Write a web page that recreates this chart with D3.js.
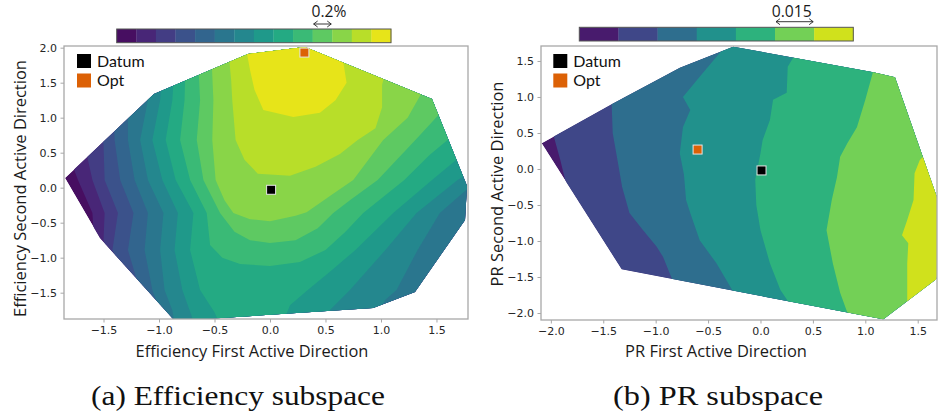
<!DOCTYPE html>
<html>
<head>
<meta charset="utf-8">
<script src="https://cdn.jsdelivr.net/npm/d3@7"></script>
<style>
  body { margin: 0; background: #fff; }
  svg { display: block; }
</style>
</head>
<body>
<svg id="fig" width="938" height="418"></svg>
<script>
// ---------------- data ----------------
// Efficiency subspace: sampled domain (convex hull) and contour-level boundaries.
const effHull = [[-1.847,0.139],[-1.532,-0.719],[-0.856,-1.904],[0.928,-1.719],[1.306,-1.49],
  [1.757,-0.461],[1.775,0.024],[1.459,1.267],[0.315,2.01],[-0.198,1.91],[-1.045,1.339]];
const effLevelCount = 14;
// boundary k separates level k-1 (outside) from level k (inside, towards the optimum)
const effBoundaries = [
  [[-1.80,0.40],[-1.73,0.11],[-1.60,-0.36],[-1.58,-0.89],[-1.60,-2.8],[2.2,-2.8],[2.2,0.2]],
  [[-1.67,0.61],[-1.60,0.11],[-1.49,-0.36],[-1.50,-0.75],[-1.44,-1.10],[-1.44,-2.8],[2.2,-2.8],[2.2,0.2]],
  [[-1.53,0.82],[-1.50,0.62],[-1.49,0.11],[-1.37,-0.36],[-1.42,-0.89],[-1.37,-1.06],[-1.31,-1.39],[-1.31,-2.8],[2.2,-2.8],[2.2,0.2]],
  [[-1.41,1.11],[-1.40,0.68],[-1.35,0.11],[-1.23,-0.36],[-1.28,-0.89],[-1.20,-1.32],[-1.13,-1.60],[-1.13,-2.8],[2.2,-2.8],[2.2,0.2]],
  [[-1.28,1.25],[-1.28,0.68],[-1.22,0.11],[-1.10,-0.36],[-1.13,-0.89],[-1.06,-1.46],[-1.01,-1.68],[-0.96,-2.03],[0.27,-2.46],[1.98,-1.75],[2.03,0.18]],
  [[-1.12,1.47],[-1.10,1.25],[-1.17,0.68],[-1.10,0.11],[-0.96,-0.36],[-0.99,-0.89],[-0.95,-1.46],[-0.88,-1.75],[-0.85,-2.03],[0.90,-1.96],[1.04,-1.60],[1.14,-1.46],[1.33,-0.89],[1.53,-0.36],[1.77,-0.03],[1.89,0.04]],
  [[-0.97,1.65],[-0.99,1.25],[-1.06,0.68],[-0.97,0.11],[-0.83,-0.36],[-0.86,-0.89],[-0.79,-1.46],[-0.70,-1.86],[-0.68,-2.10],[0.45,-2.03],[0.52,-1.78],[0.72,-1.46],[1.04,-0.89],[1.32,-0.36],[1.69,0.11],[1.85,0.25]],
  [[-0.86,1.75],[-0.88,1.25],[-0.94,0.68],[-0.85,0.11],[-0.69,-0.36],[-0.72,-0.89],[-0.63,-1.46],[-0.50,-1.78],[-0.43,-2.03],[0.09,-2.03],[0.18,-1.68],[0.34,-1.46],[0.54,-1.20],[0.77,-0.89],[1.11,-0.36],[1.46,0.11],[1.68,0.40],[1.82,0.54]],
  [[-0.76,1.82],[-0.77,1.25],[-0.81,0.68],[-0.72,0.11],[-0.57,-0.36],[-0.54,-0.82],[-0.43,-1.00],[-0.27,-1.09],[0,-1.12],[0.27,-1.06],[0.50,-0.89],[0.68,-0.63],[0.84,-0.36],[1.21,0.11],[1.44,0.47],[1.60,0.68],[1.73,0.79]],
  [[-0.65,1.90],[-0.63,1.25],[-0.66,0.68],[-0.60,0.11],[-0.45,-0.36],[-0.32,-0.63],[-0.18,-0.75],[0,-0.79],[0.23,-0.75],[0.43,-0.58],[0.57,-0.36],[0.72,-0.18],[0.97,0.11],[1.31,0.68],[1.46,0.94],[1.60,1.18]],
  [[-0.53,1.97],[-0.51,1.25],[-0.52,0.68],[-0.49,0.11],[-0.41,-0.18],[-0.33,-0.36],[-0.18,-0.45],[0,-0.48],[0.23,-0.40],[0.33,-0.35],[0.54,-0.12],[0.75,0.11],[1.02,0.68],[1.24,1.00],[1.39,1.42]],
  [[-0.38,2.04],[-0.35,1.54],[-0.34,1.25],[-0.31,0.68],[-0.23,0.40],[-0.11,0.20],[0.18,0.17],[0.41,0.30],[0.63,0.48],[0.79,0.68],[0.95,0.85],[1.01,1.15],[1.01,1.47],[1.05,1.71]],
  [[-0.23,2.11],[-0.18,1.68],[-0.14,1.40],[-0.06,1.11],[0.21,1.01],[0.45,1.07],[0.59,1.25],[0.69,1.50],[0.66,1.80],[0.68,2.11]]
];
const effDatum = [0.01, -0.03];
const effOpt = [0.31, 1.93];
const effXDomain = [-1.856, 1.784];
const effYDomain = [-1.876, 2.024];
const effXTicks = [-1.5, -1.0, -0.5, 0.0, 0.5, 1.0, 1.5];
const effYTicks = [-1.5, -1.0, -0.5, 0.0, 0.5, 1.0, 1.5, 2.0];
const effStepLabel = "0.2%";
const effStepBand = 10;

// PR subspace
const prHull = [[-2.088,0.357],[-1.42,0.899],[-0.768,1.407],[-0.26,1.699],[1.076,1.343],[1.283,1.274],
  [1.81,-0.92],[1.675,-1.532],[1.172,-2.088],[-1.324,-1.393]];
const prLevelCount = 7;
// boundary k separates level k-1 (left) from level k (right)
const prBoundaries = [
  [[-2.01,0.61],[-1.97,0.44],[-1.91,0.125],[-1.84,-0.29],[-1.69,-0.60],[-1.63,-0.85]],
  [[-1.44,1.10],[-1.42,0.90],[-1.41,0.50],[-1.37,0.17],[-1.32,-0.25],[-1.25,-0.61],[-1.12,-0.85],[-0.99,-1.08],[-0.93,-1.22],[-0.84,-1.54],[-0.81,-1.75]],
  [[-0.24,1.86],[-0.39,1.61],[-0.58,1.28],[-0.74,1.00],[-0.67,0.82],[-0.74,0.58],[-0.77,0.22],[-0.73,-0.08],[-0.71,-0.43],[-0.67,-0.61],[-0.58,-0.99],[-0.42,-1.31],[-0.27,-1.68],[-0.23,-1.89]],
  [[0.36,1.79],[0.31,1.54],[0.26,1.42],[0.25,1.06],[0.12,0.96],[0.09,0.68],[0.02,0.40],[0.00,0.22],[-0.05,-0.15],[-0.04,-0.50],[0.00,-0.85],[0.09,-1.31],[0.19,-1.68],[0.26,-1.83],[0.28,-2.03]],
  [[1.10,1.58],[1.07,1.33],[1.00,0.96],[0.92,0.58],[0.83,0.36],[0.76,0.17],[0.73,-0.11],[0.68,-0.43],[0.63,-0.85],[0.69,-1.31],[0.76,-1.72],[0.83,-2.00],[0.85,-2.17]],
  [[1.62,0.26],[1.52,0.125],[1.47,-0.06],[1.46,-0.43],[1.40,-0.71],[1.35,-0.92],[1.41,-1.03],[1.40,-1.31],[1.40,-1.83],[1.38,-2.10]]
];
const prDatum = [0.01, -0.02];
const prOpt = [-0.60, 0.27];
const prXDomain = [-2.094, 1.684];
const prYDomain = [-2.097, 1.708];
const prXTicks = [-2.0, -1.5, -1.0, -0.5, 0.0, 0.5, 1.0, 1.5];
const prYTicks = [-2.0, -1.5, -1.0, -0.5, 0.0, 0.5, 1.0, 1.5];
const prStepLabel = "0.015";
const prStepBand = 5;

const legendItems = ["Datum", "Opt"];
const captions = ["(a) Efficiency subspace", "(b) PR subspace"];

// ---------------- drawing ----------------
const svg = d3.select("#fig");
const defs = svg.append("defs");
const SANS = "'Open Sans', 'Noto Sans', sans-serif";
const LEGENDFONT = "Lato, 'Open Sans', sans-serif";
const TICKFONT = "'DejaVu Sans', sans-serif";
const FRAME = "#a8a8a8";
const OPT_COLOR = "#dc6106";

function fitWidth(sel, target) {
  const w = sel.node().getComputedTextLength();
  const fs = parseFloat(sel.attr("font-size"));
  if (w > 0) sel.attr("font-size", (fs * target / w).toFixed(2));
  return sel;
}

function drawPanel(cfg) {
  const g = svg.append("g");
  const x = d3.scaleLinear().domain(cfg.xDomain).range([cfg.box.left, cfg.box.right]);
  const y = d3.scaleLinear().domain(cfg.yDomain).range([cfg.box.bottom, cfg.box.top]);
  const color = i => d3.interpolateViridis((i + 0.5) / cfg.levels);
  const line = d3.line().x(d => x(d[0])).y(d => y(d[1]));

  defs.append("clipPath").attr("id", cfg.id + "-frame").append("rect")
    .attr("x", cfg.box.left).attr("y", cfg.box.top)
    .attr("width", cfg.box.right - cfg.box.left).attr("height", cfg.box.bottom - cfg.box.top);
  defs.append("clipPath").attr("id", cfg.id + "-hull").append("path")
    .attr("d", line(cfg.hull) + "Z");

  const plot = g.append("g").attr("clip-path", `url(#${cfg.id}-frame)`)
    .append("g").attr("clip-path", `url(#${cfg.id}-hull)`);

  // lowest level fills the whole sampled domain, each higher level is painted on top
  plot.append("path").attr("d", line(cfg.hull) + "Z").attr("fill", color(0));
  cfg.boundaries.forEach((b, i) => {
    plot.append("path").attr("d", line(cfg.close(b)) + "Z").attr("fill", color(i + 1));
  });

  // markers
  const ms = 9;
  [[cfg.datum, "#000000"], [cfg.opt, OPT_COLOR]].forEach(([p, c]) => {
    g.append("rect")
      .attr("x", x(p[0]) - ms / 2).attr("y", y(p[1]) - ms / 2)
      .attr("width", ms).attr("height", ms)
      .attr("fill", c).attr("stroke", "#e6e6e6").attr("stroke-width", 1);
  });

  // frame
  g.append("rect")
    .attr("x", cfg.box.left).attr("y", cfg.box.top)
    .attr("width", cfg.box.right - cfg.box.left).attr("height", cfg.box.bottom - cfg.box.top)
    .attr("fill", "none").attr("stroke", FRAME).attr("stroke-width", 1.3);

  // axes
  const fmt = d3.format(".1f");
  const xa = g.append("g").attr("transform", `translate(0,${cfg.box.bottom})`)
    .call(d3.axisBottom(x).tickValues(cfg.xTicks).tickFormat(fmt).tickSize(3.5).tickPadding(3.5));
  const ya = g.append("g").attr("transform", `translate(${cfg.box.left},0)`)
    .call(d3.axisLeft(y).tickValues(cfg.yTicks).tickFormat(fmt).tickSize(3.5).tickPadding(3.5));
  [xa, ya].forEach(a => {
    a.select(".domain").remove();
    a.selectAll(".tick line").attr("stroke", FRAME).attr("stroke-width", 1);
    a.selectAll(".tick text").attr("fill", "#262626")
      .attr("font-family", TICKFONT).attr("font-size", 11);
  });

  // axis titles
  const xt = g.append("text").attr("x", cfg.xTitle.cx).attr("y", cfg.xTitle.baseline)
    .attr("text-anchor", "middle").attr("font-family", SANS).attr("font-size", 16)
    .attr("fill", "#1a1a1a").text(cfg.xTitle.text);
  fitWidth(xt, cfg.xTitle.width);
  const yt = g.append("text")
    .attr("transform", `translate(${cfg.yTitle.baseline},${cfg.yTitle.cy}) rotate(-90)`)
    .attr("text-anchor", "middle").attr("font-family", SANS).attr("font-size", 16)
    .attr("fill", "#1a1a1a").text(cfg.yTitle.text);
  fitWidth(yt, cfg.yTitle.width);

  // legend
  const lg = g.append("g");
  [["#000000", legendItems[0]], [OPT_COLOR, legendItems[1]]].forEach(([c, label], i) => {
    const top = cfg.legend.y + i * 19.5;
    lg.append("rect").attr("x", cfg.legend.x).attr("y", top)
      .attr("width", 14).attr("height", 14).attr("fill", c);
    lg.append("text").attr("x", cfg.legend.x + 20).attr("y", top + 12.5)
      .attr("font-family", LEGENDFONT).attr("font-size", 16).attr("fill", "#111").text(label);
  });

  // colour bar
  const cb = cfg.cbar;
  const band = d3.scaleBand().domain(d3.range(cfg.levels)).range([cb.left, cb.right]).paddingInner(0);
  g.append("g").selectAll("rect").data(d3.range(cfg.levels)).join("rect")
    .attr("x", d => band(d)).attr("y", cb.top)
    .attr("width", band.bandwidth() + 0.3).attr("height", cb.bottom - cb.top)
    .attr("fill", d => color(d));
  g.append("rect").attr("x", cb.left).attr("y", cb.top)
    .attr("width", cb.right - cb.left).attr("height", cb.bottom - cb.top)
    .attr("fill", "none").attr("stroke", "#555").attr("stroke-width", 1);

  // level-step arrow over one band
  const ax0 = band(cfg.stepBand) + 1, ax1 = band(cfg.stepBand) + band.bandwidth() - 1, ay = cb.arrowY;
  g.append("path")
    .attr("d", `M${ax0},${ay}H${ax1}M${ax0 + 4},${ay - 3}L${ax0},${ay}L${ax0 + 4},${ay + 3}` +
               `M${ax1 - 4},${ay - 3}L${ax1},${ay}L${ax1 - 4},${ay + 3}`)
    .attr("fill", "none").attr("stroke", "#222").attr("stroke-width", 0.9);
  const st = g.append("text").attr("x", cb.labelX).attr("y", cb.labelY)
    .attr("text-anchor", "middle").attr("font-family", SANS).attr("font-size", 15)
    .attr("fill", "#1a1a1a").text(cfg.stepLabel);
  fitWidth(st, cb.labelW);

  // caption
  svg.append("text").attr("x", cfg.caption.x).attr("y", 405)
    .attr("font-family", "'Liberation Serif', 'DejaVu Serif', serif").attr("font-size", 26.5)
    .attr("fill", "#111")
    .attr("textLength", cfg.caption.width).attr("lengthAdjust", "spacingAndGlyphs")
    .text(cfg.caption.text);
}

// closing the boundary on the high-value side
const closeUp = b => b.concat([[b[b.length - 1][0], 6], [b[0][0], 6]]);
const closeRight = b => b.concat([[b[b.length - 1][0], -6], [5, -6], [5, 6], [b[0][0], 6]]);

drawPanel({
  id: "eff", hull: effHull, levels: effLevelCount, boundaries: effBoundaries, close: closeUp,
  datum: effDatum, opt: effOpt, xDomain: effXDomain, yDomain: effYDomain,
  xTicks: effXTicks, yTicks: effYTicks,
  box: { left: 64, right: 468, top: 46, bottom: 319 },
  xTitle: { text: "Efficiency First Active Direction", cx: 252, baseline: 357, width: 233 },
  yTitle: { text: "Efficiency Second Active Direction", cy: 188.5, baseline: 26, width: 257 },
  legend: { x: 77, y: 54 },
  cbar: { left: 116.7, right: 391, top: 29, bottom: 42.7, arrowY: 24, labelX: 329, labelY: 16.5, labelW: 35 },
  stepLabel: effStepLabel, stepBand: effStepBand,
  caption: { text: captions[0], x: 91, width: 294 }
});

drawPanel({
  id: "pr", hull: prHull, levels: prLevelCount, boundaries: prBoundaries, close: closeRight,
  datum: prDatum, opt: prOpt, xDomain: prXDomain, yDomain: prYDomain,
  xTicks: prXTicks, yTicks: prYTicks,
  box: { left: 541, right: 937, top: 46, bottom: 320 },
  xTitle: { text: "PR First Active Direction", cx: 716, baseline: 357, width: 182 },
  yTitle: { text: "PR Second Active Direction", cy: 184, baseline: 503, width: 205 },
  legend: { x: 553.3, y: 54 },
  cbar: { left: 579.3, right: 853.3, top: 27.3, bottom: 41, arrowY: 21.7, labelX: 791.7, labelY: 16.5, labelW: 40 },
  stepLabel: prStepLabel, stepBand: prStepBand,
  caption: { text: captions[1], x: 613, width: 210 }
});
</script>
</body>
</html>
